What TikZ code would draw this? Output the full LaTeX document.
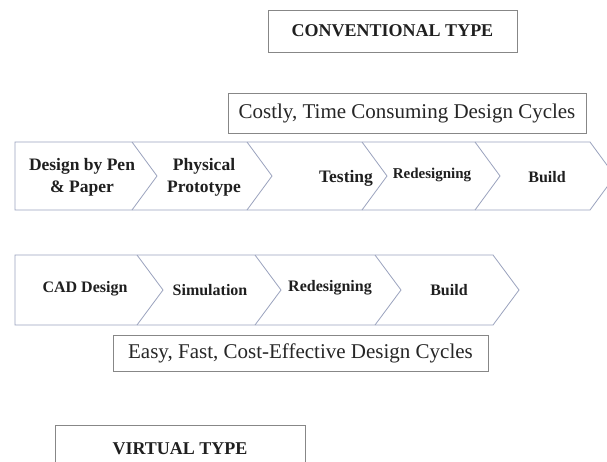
\documentclass[tikz,border=0pt]{standalone}
\usepackage{fontspec}
\setmainfont{Liberation Serif}
\usepackage{xcolor}
\definecolor{chevline}{RGB}{155,163,190}
\definecolor{boxline}{RGB}{135,135,135}

\begin{document}
\begin{tikzpicture}[x=1pt,y=-1pt,line join=miter,
  titlebox/.style={draw=boxline,line width=0.9pt,fill=white,inner sep=0pt,font=\bfseries\fontsize{18}{21}\selectfont,text=black!88},
  cyclebox/.style={draw=boxline,line width=0.9pt,fill=white,inner sep=0pt,font=\fontsize{21}{25}\selectfont,text=black!85},
  chev/.style={draw=chevline,line width=0.8pt},
  steptext/.style={align=center,inner sep=0pt,text=black!88,font=\bfseries\fontsize{16}{19}\selectfont},
  bigstep/.style={steptext,font=\bfseries\fontsize{17.5}{22}\selectfont}]
\useasboundingbox[fill=white] (0,0) rectangle (607,461);

\node[titlebox,minimum width=249,minimum height=42] (conv) at (392.5,31) {CONVENTIONAL TYPE};
\node[cyclebox,minimum width=358,minimum height=40] (costly) at (407,113) {Costly, Time Consuming Design Cycles};

% first row of steps
\draw[chev] (15,142) -- (590,142) -- (615,176) -- (590,210) -- (15,210) -- cycle;
\foreach \x in {132,247,362,475}
  \draw[chev] (\x,142) -- (\x+25,176) -- (\x,210);
\node[bigstep] (pen) at (82,177) {Design by Pen\\\& Paper};
\node[bigstep] (proto) at (204,177) {Physical\\Prototype};
\node[bigstep] (test) at (346,178) {Testing};
\node[steptext,font=\bfseries\fontsize{15}{18}\selectfont] (redes1) at (432,175) {Redesigning};
\node[steptext] (build1) at (547,177) {Build};

% second row of steps
\draw[chev] (15,255) -- (493,255) -- (519,290) -- (493,325) -- (15,325) -- cycle;
\foreach \x in {137,255,375}
  \draw[chev] (\x,255) -- (\x+26,290) -- (\x,325);
\node[steptext] (cad) at (85,289) {CAD Design};
\node[steptext] (sim) at (210,290) {Simulation};
\node[steptext] (redes2) at (330,288) {Redesigning};
\node[steptext] (build2) at (449,290) {Build};

\node[cyclebox,minimum width=375,minimum height=36] (easy) at (300.5,353) {Easy, Fast, Cost-Effective Design Cycles};
\node[titlebox,minimum width=250,minimum height=48] (virt) at (180,449) {VIRTUAL TYPE};
\end{tikzpicture}
\end{document}
